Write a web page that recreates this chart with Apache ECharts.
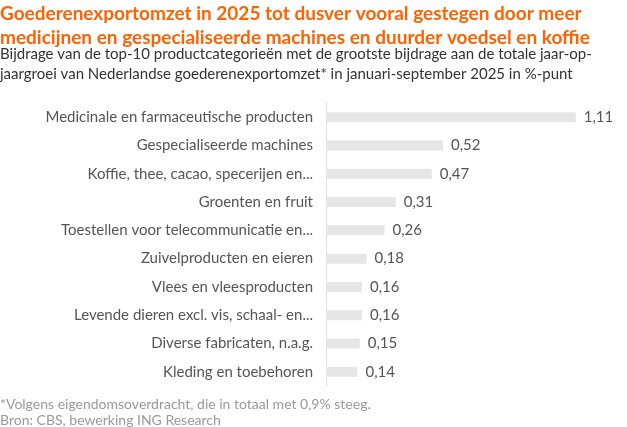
<!DOCTYPE html>
<html><head><meta charset="utf-8">
<script src="https://cdn.jsdelivr.net/npm/echarts@6/dist/echarts.min.js"></script>
<style>html,body{margin:0;padding:0;background:#fff}#c{width:627px;height:427px}</style>
</head><body><div id="c"></div>
<script>
const categories = [
  "Medicinale en farmaceutische producten",
  "Gespecialiseerde machines",
  "Koffie, thee, cacao, specerijen en...",
  "Groenten en fruit",
  "Toestellen voor telecommunicatie en...",
  "Zuivelproducten en eieren",
  "Vlees en vleesproducten",
  "Levende dieren excl. vis, schaal- en...",
  "Diverse fabricaten, n.a.g.",
  "Kleding en toebehoren"
];
const values = [1.11, 0.52, 0.47, 0.31, 0.26, 0.18, 0.16, 0.16, 0.15, 0.14];
const titleText = "Goederenexportomzet in 2025 tot dusver vooral gestegen door meer\nmedicijnen en gespecialiseerde machines en duurder voedsel en koffie";
const subtitleText = "Bijdrage van de top-10 productcategorieën met de grootste bijdrage aan de totale jaar-op-\njaargroei van Nederlandse goederenexportomzet* in januari-september 2025 in %-punt";
const footText = "*Volgens eigendomsoverdracht, die in totaal met 0,9% steeg.\nBron: CBS, bewerking ING Research";

const FONT = "Lato, 'Noto Sans', sans-serif";
const chart = echarts.init(document.getElementById('c'));
chart.setOption({
  animation: false,
  title: [
    { text: titleText, left: 0, top: 2, padding: 0,
      textStyle: { color: '#FF6200', fontSize: 19, fontWeight: 'bold', fontFamily: FONT, lineHeight: 24 } },
    { text: subtitleText, left: 0, top: 44, padding: 0,
      textStyle: { color: '#333333', fontSize: 15, fontWeight: 'normal', fontFamily: FONT, lineHeight: 20 } },
    { text: footText, left: 0, top: 396, padding: 0,
      textStyle: { color: '#999999', fontSize: 14, fontWeight: 'normal', fontFamily: FONT, lineHeight: 16 } }
  ],
  grid: { left: 326, top: 103, width: 270, height: 283, containLabel: false },
  xAxis: { type: 'value', min: 0, max: 1.2, show: false },
  yAxis: {
    type: 'category', data: categories, inverse: true,
    axisLine: { show: true, lineStyle: { color: '#e0e0e0', width: 1 } },
    axisTick: { show: false },
    axisLabel: { color: '#555555', fontSize: 15, fontFamily: FONT, margin: 13 }
  },
  series: [{
    type: 'bar', data: values, barWidth: 10,
    itemStyle: { color: '#e6e6e6' },
    label: { show: true, position: 'right', distance: 8, color: '#555555', fontSize: 15, fontFamily: FONT,
      formatter: p => p.value.toFixed(2).replace('.', ',') }
  }]
});
</script></body></html>
